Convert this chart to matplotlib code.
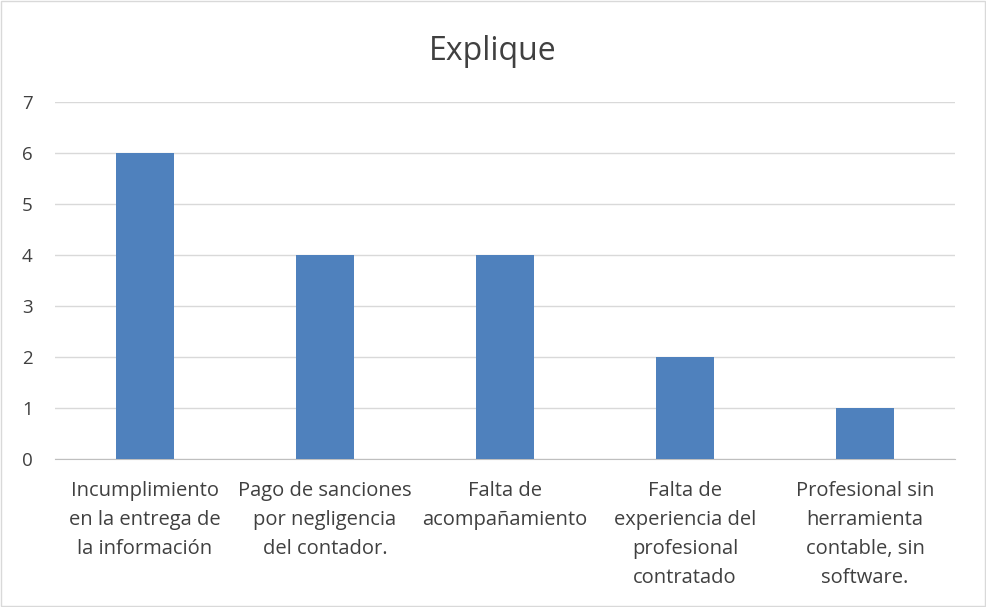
import matplotlib.pyplot as plt
from matplotlib.patches import Rectangle

categories = [
    "Incumplimiento\nen la entrega de\nla información",
    "Pago de sanciones\npor negligencia\ndel contador.",
    "Falta de\nacompañamiento",
    "Falta de\nexperiencia del\nprofesional\ncontratado",
    "Profesional sin\nherramienta\ncontable, sin\nsoftware.",
]
values = [6, 4, 4, 2, 1]

plt.rcParams['font.family'] = ['Open Sans', 'DejaVu Sans']

fig = plt.figure(figsize=(9.86, 6.07), dpi=100)
ax = fig.add_axes([0.0558, 0.2438, 0.9128, 0.5882])

x = range(len(values))
ax.bar(x, values, width=0.32, color='#4F81BD', zorder=3)

ax.set_xlim(-0.5, len(values) - 0.5)
ax.set_ylim(0, 7)
ax.set_yticks(range(0, 8))
ax.set_xticks(list(x))
ax.set_xticklabels(categories, fontsize=14.5, color='#404040', linespacing=1.6, va='top')
ax.tick_params(axis='both', length=0, colors='#404040')
ax.tick_params(axis='y', labelsize=13.5, pad=16)
ax.tick_params(axis='x', pad=16)

ax.grid(axis='y', color='#D9D9D9', linewidth=1, zorder=0)
for side in ['top', 'right', 'left']:
    ax.spines[side].set_visible(False)
ax.spines['bottom'].set_color('#BFBFBF')

fig.text(0.500, 0.915, "Explique", ha='center', va='center', fontsize=23, color='#404040')

fig.patches.append(Rectangle((0.001, 0.001), 0.998, 0.997, transform=fig.transFigure,
                             fill=False, edgecolor='#D9D9D9', linewidth=1))

fig.savefig("out.png", dpi=100)
